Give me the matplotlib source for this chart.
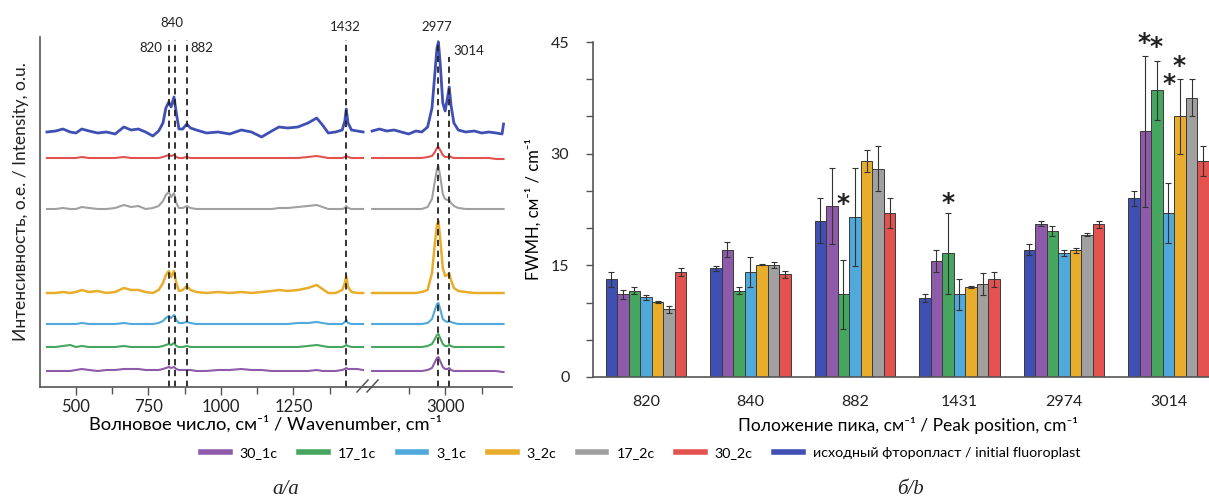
import matplotlib
matplotlib.use("Agg")
import matplotlib.pyplot as plt
from matplotlib.lines import Line2D
import numpy as np

plt.rcParams['font.family'] = ['Lato', 'Noto Sans', 'DejaVu Sans']

# ---------------- colours ----------------
C_INIT = "#3f4fb3"
C_30_1 = "#8d5ba9"
C_17_1 = "#46a660"
C_3_1 = "#4fa9da"
C_3_2 = "#e8ad2b"
C_17_2 = "#a0a0a0"
C_30_2 = "#e4524f"

# ---------------- panel a: spectra (intensity above each baseline, o.u.) ----------------
wn_left = [400, 430, 455, 480, 500, 520, 545, 575, 605, 635, 665, 690, 715, 740, 765, 785,
           800, 810, 820, 828, 838, 846, 855, 868, 882, 895, 915, 950, 990, 1030, 1070, 1105,
           1140, 1175, 1200, 1230, 1265, 1300, 1330, 1350, 1370, 1395, 1418, 1427, 1432, 1438,
           1450, 1470, 1490]
wn_right = [2750, 2775, 2800, 2825, 2850, 2875, 2900, 2920, 2940, 2955, 2965, 2972, 2977, 2983,
            2992, 3000, 3008, 3014, 3020, 3030, 3045, 3070, 3100, 3125, 3150, 3175, 3195, 3200]

init_left = [1, 2, 4, 1, 0, 4, 2, 0, 1, -1, 6, 3, 4, 1, -3, 2,
             10, 25, 31, 26, 36, 20, 4, 4, 9, 5, 3, 0, 1, -1, 3, 1,
             -4, 2, 6, 5, 6, 10, 15, 8, 0, 1, 3, 12, 24, 10,
             3, 2, 1]
init_right = [2, 4, 2, 3, 1, -1, 2, 1, 6, 25, 60, 85, 91, 70,
              30, 22, 35, 46, 28, 10, 3, 1, 2, 0, 1, 0, -1, 9]

s30_2_left = [0, 0, 0, 0, 0, 1, 0, 0, 0, 0, 1, 0, 0, 0, 0, 0,
              1, 2, 3, 2, 3, 1, 0, 0, 1, 0, 0, 0, 0, 0, 0, 0,
              0, 0, 0, 0, 0, 1, 2, 1, 0, 0, 0, 1, 2, 1,
              0, 0, 0]
s30_2_right = [0, 0, 0, 0, 0, 0, 0, 0, 1, 2, 6, 10, 11, 8,
               3, 1, 1, 2, 1, 0, 0, 0, 0, 0, 0, -1, -1, -1]

s17_2_left = [0, 0, 1, 0, 0, 2, 1, 0, 0, 1, 4, 2, 3, 0, 1, 3,
              8, 14, 17, 12, 16, 6, 1, 1, 3, 1, 0, 0, 0, 0, 0, 0,
              0, 0, 1, 1, 2, 3, 4, 2, 0, 0, 0, 1, 3, 1,
              0, 0, 0]
s17_2_right = [0, 0, 0, 0, 0, 0, 0, 0, 2, 10, 28, 40, 43, 33,
               15, 10, 9, 9, 6, 3, 1, 0, 0, 0, 0, 0, 0, 0]

s3_2_left = [0, 0, 1, 0, 1, 3, 1, 2, 0, 1, 5, 3, 3, 1, 0, 3,
             10, 18, 22, 16, 22, 10, 2, 3, 7, 3, 1, 0, 1, 0, 1, 0,
             1, 2, 3, 2, 3, 5, 8, 4, 0, 0, 3, 10, 17, 6,
             1, 0, 0]
s3_2_right = [0, 0, 0, 0, 0, 0, 0, 1, 3, 20, 50, 68, 72, 55,
              25, 17, 18, 20, 13, 5, 2, 1, 0, 0, 0, 0, 0, 0]

s3_1_left = [0, 0, 0, 0, 0, 1, 0, 0, 0, 0, 1, 0, 0, 0, 0, 1,
             3, 6, 8, 6, 9, 4, 1, 1, 2, 1, 0, 0, 0, 0, 0, 0,
             0, 0, 0, 0, 1, 1, 2, 1, 0, 0, 0, 2, 4, 1,
             0, 0, 0]
s3_1_right = [0, 0, 0, 0, 0, 0, 0, 0, 1, 5, 14, 20, 21, 15,
              5, 3, 2, 3, 2, 1, 0, 0, 0, 0, 0, 0, 0, 0]

s17_1_left = [0, 0, 1, 2, 0, 1, 0, 0, 0, 0, 1, 0, 0, 0, 0, 0,
              1, 2, 3, 2, 4, 1, 0, 0, 1, 0, 0, 0, 0, 0, 0, 0,
              0, 0, 0, 0, 0, 1, 2, 1, 0, 0, 0, 1, 2, 1,
              0, 0, 0]
s17_1_right = [0, 0, 0, 0, 0, 0, 0, 0, 1, 3, 8, 12, 13, 9,
               3, 1, 1, 2, 1, 0, 0, 0, 0, 0, 0, 0, 0, 0]

s30_1_left = [0, 0, 0, 0, 1, 2, 1, 0, 1, 1, 2, 2, 2, 1, 1, 1,
              2, 3, 4, 3, 4, 2, 1, 1, 1, 1, 0, 0, 1, 1, 2, 1,
              1, 0, 0, 0, 0, 0, 1, 0, 0, 0, 1, 2, 3, 2,
              2, 2, 1]
s30_1_right = [0, 0, 0, 0, 0, 0, 0, 0, 1, 3, 9, 13, 14, 10,
               4, 2, 2, 3, 1, 0, 0, 0, 0, 0, 0, 0, -1, -1]

# vertical stacking offsets (o.u.)
baseline = {"init": 254, "30_2": 229, "17_2": 178, "3_2": 94, "3_1": 63, "17_1": 40, "30_1": 16}

spectra = [
    ("init", init_left, init_right, C_INIT, 2.0),
    ("30_2", s30_2_left, s30_2_right, C_30_2, 1.5),
    ("17_2", s17_2_left, s17_2_right, C_17_2, 1.5),
    ("3_2", s3_2_left, s3_2_right, C_3_2, 1.8),
    ("3_1", s3_1_left, s3_1_right, C_3_1, 1.5),
    ("17_1", s17_1_left, s17_1_right, C_17_1, 1.5),
    ("30_1", s30_1_left, s30_1_right, C_30_1, 1.5),
]

peak_lines_left = [820, 840, 882, 1432]
peak_lines_right = [2977, 3014]

# ---------------- panel b: FWHM bars ----------------
peaks = ["820", "840", "882", "1431", "2974", "3014"]
fwhm_init = [13.1, 14.6, 21.0, 10.6, 17.1, 24.0]
fwhm_30_1 = [11.1, 17.1, 23.0, 15.6, 20.6, 33.0]
fwhm_17_1 = [11.6, 11.6, 11.1, 16.6, 19.6, 38.5]
fwhm_3_1 = [10.7, 14.1, 21.5, 11.1, 16.6, 22.0]
fwhm_3_2 = [10.1, 15.1, 29.0, 12.1, 17.0, 35.0]
fwhm_17_2 = [9.1, 15.0, 28.0, 12.5, 19.1, 37.5]
fwhm_30_2 = [14.1, 13.8, 22.0, 13.1, 20.5, 29.0]
err_init = [1.0, 0.3, 3.0, 0.5, 0.7, 1.0]
err_30_1 = [0.6, 1.0, 5.1, 1.5, 0.3, 10.1]
err_17_1 = [0.5, 0.5, 4.6, 5.4, 0.7, 4.0]
err_3_1 = [0.3, 2.0, 6.6, 2.1, 0.4, 4.0]
err_3_2 = [0.1, 0.1, 1.5, 0.1, 0.3, 5.0]
err_17_2 = [0.5, 0.4, 3.0, 1.5, 0.2, 2.5]
err_30_2 = [0.55, 0.5, 2.0, 1.0, 0.5, 2.0]

# significance marks: (group index, bar slot, height)
signif = [(2, 2, 23.2), (3, 2, 23.4), (5, 0.9, 44.9), (5, 1.95, 44.3), (5, 3.9, 41.8), (5, 3.05, 39.4)]

labels = ["30_1c", "17_1c", "3_1c", "3_2c", "17_2c", "30_2c",
          "исходный фторопласт / initial fluoroplast"]
legend_colors = [C_30_1, C_17_1, C_3_1, C_3_2, C_17_2, C_30_2, C_INIT]

bar_series = [
    (fwhm_init, err_init, C_INIT),
    (fwhm_30_1, err_30_1, C_30_1),
    (fwhm_17_1, err_17_1, C_17_1),
    (fwhm_3_1, err_3_1, C_3_1),
    (fwhm_3_2, err_3_2, C_3_2),
    (fwhm_17_2, err_17_2, C_17_2),
    (fwhm_30_2, err_30_2, C_30_2),
]

# ---------------- figure ----------------
W, H = 1209, 504
fig = plt.figure(figsize=(W / 100, H / 100), dpi=100)

def fx(px):
    return px / W

def fy(py):
    return 1 - py / H

SPINE = "#555555"

# panel a axes (broken x axis)
axL = fig.add_axes([fx(40), fy(387), fx(366 - 40), (387 - 37) / H])
axR = fig.add_axes([fx(366), fy(387), fx(512 - 366), (387 - 37) / H])
for ax in (axL, axR):
    ax.set_ylim(0, 350)
    ax.patch.set_alpha(0)
    for s in ("top", "right"):
        ax.spines[s].set_visible(False)
    ax.spines["bottom"].set_color(SPINE)
    ax.spines["bottom"].set_linewidth(1.2)
    ax.set_yticks([])
axR.spines["left"].set_visible(False)
axL.spines["left"].set_color(SPINE)
axL.spines["left"].set_linewidth(1.2)
axL.set_xlim(376, 1500)
axR.set_xlim(2729, 3229)
axL.set_xticks([500, 750, 1000, 1250])
axL.set_xticks([625, 875, 1125, 1375], minor=True)
axR.set_xticks([3000])
axR.set_xticks([2875, 3125], minor=True)
for ax in (axL, axR):
    ax.tick_params(axis="x", which="major", length=6, width=1.0, color=SPINE,
                   labelsize=12, pad=3, labelcolor="#222222")
    ax.tick_params(axis="x", which="minor", length=5, width=1.0, color=SPINE)

for key, yl, yr, col, lw in spectra:
    b = baseline[key]
    axL.plot(wn_left, np.array(yl) + b, color=col, lw=lw, solid_joinstyle="round")
    axR.plot(wn_right, np.array(yr) + b, color=col, lw=lw, solid_joinstyle="round")

dash = dict(color="#222222", lw=1.3, linestyles=(0, (3.5, 2.5)))
axL.vlines(peak_lines_left, 0, 347, **dash)
axR.vlines(peak_lines_right[0], 0, 347, **dash)
axR.vlines(peak_lines_right[1], 0, 330, **dash)

pk = dict(fontsize=9.5, color="#222222", clip_on=False)
axL.text(831, 364, "840", ha="center", va="center", **pk)
axL.text(797, 339, "820", ha="right", va="center", **pk)
axL.text(893, 339, "882", ha="left", va="center", **pk)
axL.text(1430, 360, "1432", ha="center", va="center", **pk)
axR.text(2972, 360, "2977", ha="center", va="center", **pk)
axR.text(3027, 336, "3014", ha="left", va="center", **pk)

# break marks
for x0 in (357, 367):
    fig.add_artist(Line2D([fx(x0), fx(x0 + 11)], [fy(392), fy(380)],
                          transform=fig.transFigure, color=SPINE, lw=1.1))

axL.set_xlabel("Волновое число, см⁻¹ / Wavenumber, cm⁻¹", fontsize=13.2, labelpad=2)
axL.xaxis.set_label_coords((265 - 40) / (366 - 40), -0.08)
fig.text(fx(21), fy(202), "Интенсивность, о.е. / Intensity, o.u.", rotation=90,
         ha="center", va="center", fontsize=12.5, color="#222222")

# panel b axes
axB = fig.add_axes([fx(593), fy(377), fx(W - 593), (377 - 42) / H])
n_series = len(bar_series)
w = 11.55 / 104.5
x = np.arange(len(peaks))
for j, (vals, errs, col) in enumerate(bar_series):
    xp = x + (j - (n_series - 1) / 2) * w
    axB.bar(xp, vals, width=w, color=col, edgecolor="#3a3a3a", linewidth=0.7, zorder=2)
    axB.errorbar(xp, vals, yerr=errs, fmt="none", ecolor="#333333", elinewidth=0.8,
                 capsize=2.5, capthick=0.8, zorder=3)
for g, slot, yv in signif:
    axB.text(g + (slot - (n_series - 1) / 2) * w, yv, "*", ha="center", va="center",
             fontsize=18, color="#222222", fontweight="bold", family="DejaVu Sans", zorder=4)

axB.set_xlim(-0.507, 5.388)
axB.set_ylim(0, 45)
axB.set_xticks(x)
axB.set_xticklabels(peaks)
axB.set_yticks([0, 15, 30, 45])
axB.set_yticks(np.arange(0, 46, 5), minor=True)
axB.tick_params(axis="x", length=0, labelsize=11.5, pad=13, labelcolor="#222222")
axB.tick_params(axis="y", which="both", length=5, width=1.0, color=SPINE, direction="out",
                labelsize=11.5, pad=12, labelcolor="#222222")
for s in ("top", "right"):
    axB.spines[s].set_visible(False)
for s in ("left", "bottom"):
    axB.spines[s].set_color(SPINE)
    axB.spines[s].set_linewidth(1.2)
axB.patch.set_alpha(0)
axB.set_xlabel("Положение пика, см⁻¹ / Peak position, cm⁻¹", fontsize=12.5, labelpad=2)
axB.xaxis.set_label_coords((908 - 593) / (W - 593), -0.12)
axB.set_ylabel("FWMH, см⁻¹ / cm⁻¹", fontsize=12)
axB.yaxis.set_label_coords(-(593 - 542) / (W - 593), 0.5)

# legend
handles = [Line2D([0], [0], color=c, lw=4) for c in legend_colors]
fig.legend(handles, labels, loc="center", bbox_to_anchor=(0.53, fy(453)), ncol=7,
           frameon=False, fontsize=10.3, handlelength=2.0, handletextpad=0.7,
           columnspacing=1.5)

# panel captions
cap = dict(fontsize=15, style="italic", family=["Liberation Serif", "DejaVu Serif"],
           ha="center", va="center", color="#222222")
fig.text(fx(286), fy(490), "а/a", **cap)
fig.text(fx(910), fy(490), "б/b", **cap)

fig.savefig("out.png", dpi=100, facecolor="white")
